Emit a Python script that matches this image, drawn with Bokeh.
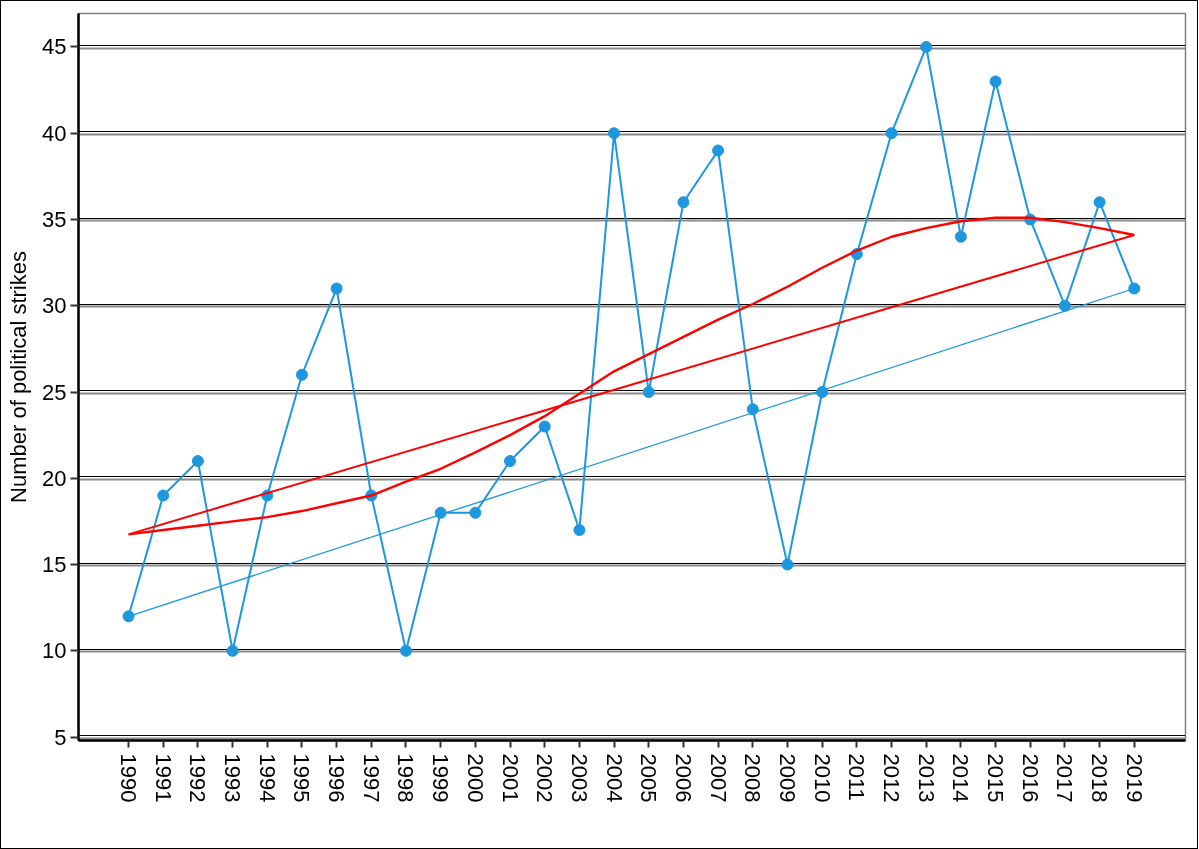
from bokeh.plotting import figure
from bokeh.models import Range1d, FixedTicker, InlineStyleSheet
from bokeh.embed import file_html
from bokeh.resources import INLINE

# ---- data ----
years = list(range(1990, 2020))
strikes = [12, 19, 21, 10, 19, 26, 31, 19, 10, 18, 18, 21, 23, 17, 40,
           25, 36, 39, 24, 15, 25, 33, 40, 45, 34, 43, 35, 30, 36, 31]
smooth = [16.75, 17.0, 17.25, 17.5, 17.75, 18.1, 18.55, 19.0, 19.8, 20.55,
          21.5, 22.5, 23.6, 24.9, 26.2, 27.2, 28.2, 29.2, 30.1, 31.1,
          32.2, 33.2, 34.0, 34.5, 34.9, 35.1, 35.1, 34.85, 34.5, 34.1]
y_ticks = [5, 10, 15, 20, 25, 30, 35, 40, 45]
y_label = "Number of political strikes"

# ---- layout (figure placed at page x=1, y=1) ----
W, H = 1196, 847
LEFT, TOP, RIGHT, BOTTOM = 77, 12, 1184, 739
Y0, Y1 = 4.8, 46.94
X0, X1 = 1988.557, 2020.477
BLUE = "#1d97de"
FONT = "Liberation Sans"

p = figure(width=W, height=H, x_range=Range1d(X0, X1), y_range=Range1d(Y0, Y1),
           output_backend="svg", toolbar_location=None,
           min_border_left=LEFT, min_border_top=TOP,
           min_border_right=W - RIGHT, min_border_bottom=H - BOTTOM)
p.stylesheets = [InlineStyleSheet(css=(
    ":host { position: fixed !important; left: 1px !important; top: 1px !important; "
    "outline: 1px solid black; outline-offset: 0px; }"))]

p.background_fill_color = "white"
p.border_fill_color = "white"
p.outline_line_color = "#808080"
p.outline_line_width = 1.5
p.xgrid.visible = False
p.ygrid.visible = False

# double grid lines (dark line just above, grey line just below each tick)
ppu = (BOTTOM - TOP) / (Y1 - Y0)
p.hspan(y=[t + 1.3 / ppu for t in y_ticks], line_color="black", line_width=1.2)
p.hspan(y=[t - 1.1 / ppu for t in y_ticks], line_color="#8a8a8a", line_width=1.8)

# axes
for ax in (p.xaxis[0], p.yaxis[0]):
    ax.axis_line_color = "black"
    ax.axis_line_width = 2.5
    ax.major_tick_line_color = "#333333"
    ax.major_tick_line_width = 2
    ax.major_tick_in = 0
    ax.minor_tick_line_color = None
    ax.major_label_text_font = FONT
    ax.major_label_text_font_size = "22px"
    ax.major_label_text_color = "black"

p.xaxis.ticker = FixedTicker(ticks=years)
p.xaxis.major_label_overrides = {y: str(y) for y in years}
p.xaxis.major_label_orientation = "vertical"
p.xaxis.major_tick_out = 7
p.xaxis.major_label_standoff = 6

p.yaxis.ticker = FixedTicker(ticks=y_ticks)
p.yaxis.major_tick_out = 8
p.yaxis.major_label_standoff = 4
p.yaxis.axis_label = y_label
p.yaxis.axis_label_text_font = FONT
p.yaxis.axis_label_text_font_size = "22px"
p.yaxis.axis_label_text_font_style = "normal"
p.yaxis.axis_label_text_color = "black"
p.yaxis.axis_label_standoff = 8

# series
p.line([years[0], years[-1]], [strikes[0], strikes[-1]], line_color=BLUE, line_width=1.3)
p.line(years, strikes, line_color=BLUE, line_width=2)
p.scatter(years, strikes, size=11, marker="circle", fill_color=BLUE, line_color=BLUE)

p.line([years[0], years[-1]], [smooth[0], smooth[-1]], line_color="red", line_width=2)
p.line(years, smooth, line_color="red", line_width=2.4)

open("out.html", "w").write(file_html(p, INLINE))
